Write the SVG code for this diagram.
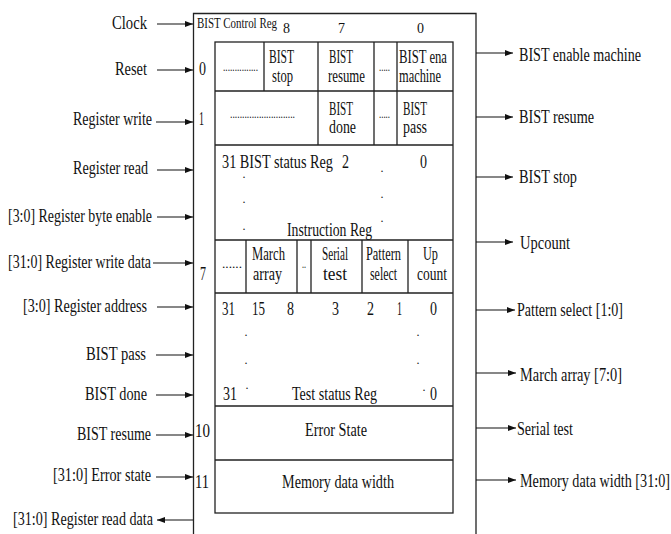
<svg xmlns="http://www.w3.org/2000/svg" width="671" height="534" viewBox="0 0 671 534">
<style>
text{font-family:"Liberation Serif","Times New Roman",serif;fill:#111;}
.lb{font-size:19px;}
.in{font-size:19px;}
.hd{font-size:15px;}
.dt{font-size:12px;}
.box{fill:none;stroke:#222;stroke-width:1.3;}
.ln{stroke:#222;stroke-width:1.3;fill:none;}
.ar{stroke:#111;stroke-width:1.2;fill:none;marker-end:url(#ah);}
</style>
<defs>
<marker id="ah" viewBox="0 0 8 6" refX="8" refY="3" markerWidth="8" markerHeight="6" markerUnits="userSpaceOnUse" orient="auto"><path d="M0,0 L8,3 L0,6 z" fill="#111"/></marker>
</defs>
<rect width="671" height="534" fill="#fff"/>

<g id="bist-block">
<path class="ln" d="M193.5,534 V13.5 H476 V534"/>
<text class="hd" x="197" y="28" textLength="80" lengthAdjust="spacingAndGlyphs">BIST Control Reg</text>
<text class="hd" x="283" y="33" textLength="7" lengthAdjust="spacingAndGlyphs">8</text>
<text class="hd" x="338" y="33" textLength="7" lengthAdjust="spacingAndGlyphs">7</text>
<text class="hd" x="417" y="33" textLength="7" lengthAdjust="spacingAndGlyphs">0</text>
<text class="in" x="199" y="75" textLength="7" lengthAdjust="spacingAndGlyphs">0</text>
<text class="in" x="199" y="125" textLength="5" lengthAdjust="spacingAndGlyphs">1</text>
<text class="in" x="200" y="280" textLength="6" lengthAdjust="spacingAndGlyphs">7</text>
<text class="in" x="195" y="437" textLength="15" lengthAdjust="spacingAndGlyphs">10</text>
<text class="in" x="195" y="488" textLength="14" lengthAdjust="spacingAndGlyphs">11</text>
</g>

<g id="register-file">
<rect class="box" x="215" y="42" width="238" height="471"/>
<path class="ln" d="M215,91 H453 M215,145 H453 M215,240 H453 M215,293 H453 M215,406 H453 M215,460 H453"/>
</g>

<g id="control-row-0">
<path class="ln" d="M264,42 V91 M318,42 V91 M374,42 V91 M397,42 V91"/>
<text class="dt" x="223" y="71" textLength="35" lengthAdjust="spacingAndGlyphs">...............</text>
<text class="in" x="269" y="63" textLength="25" lengthAdjust="spacingAndGlyphs">BIST</text>
<text class="in" x="272" y="82" textLength="21" lengthAdjust="spacingAndGlyphs">stop</text>
<text class="in" x="329" y="63" textLength="24" lengthAdjust="spacingAndGlyphs">BIST</text>
<text class="in" x="328" y="82" textLength="37" lengthAdjust="spacingAndGlyphs">resume</text>
<text class="dt" x="379" y="71" textLength="11" lengthAdjust="spacingAndGlyphs">.....</text>
<text class="in" x="399" y="63" textLength="48" lengthAdjust="spacingAndGlyphs">BIST ena</text>
<text class="in" x="399" y="82" textLength="42" lengthAdjust="spacingAndGlyphs">machine</text>
</g>

<g id="control-row-1">
<path class="ln" d="M318,91 V145 M374,91 V145 M397,91 V145"/>
<text class="dt" x="230" y="118" textLength="65" lengthAdjust="spacingAndGlyphs">...........................</text>
<text class="in" x="329" y="115" textLength="24" lengthAdjust="spacingAndGlyphs">BIST</text>
<text class="in" x="329" y="133" textLength="27" lengthAdjust="spacingAndGlyphs">done</text>
<text class="dt" x="379" y="118" textLength="11" lengthAdjust="spacingAndGlyphs">.....</text>
<text class="in" x="403" y="115" textLength="24" lengthAdjust="spacingAndGlyphs">BIST</text>
<text class="in" x="403" y="133" textLength="24" lengthAdjust="spacingAndGlyphs">pass</text>
</g>

<g id="status-reg">
<text class="in" x="222" y="168" textLength="111" lengthAdjust="spacingAndGlyphs">31 BIST status Reg</text>
<text class="in" x="342" y="168" textLength="7" lengthAdjust="spacingAndGlyphs">2</text>
<text class="in" x="420" y="168" textLength="7" lengthAdjust="spacingAndGlyphs">0</text>
<text class="dt" x="244" y="178" text-anchor="middle">.</text>
<text class="dt" x="244" y="203" text-anchor="middle">.</text>
<text class="dt" x="244" y="230" text-anchor="middle">.</text>
<text class="dt" x="382" y="172" text-anchor="middle">.</text>
<text class="dt" x="382" y="198" text-anchor="middle">.</text>
<text class="dt" x="382" y="222" text-anchor="middle">.</text>
<text class="in" x="287" y="236" textLength="85" lengthAdjust="spacingAndGlyphs">Instruction Reg</text>
</g>

<g id="instruction-row">
<path class="ln" d="M246,240 V293 M297,240 V293 M311,240 V293 M362,240 V293 M408,240 V293"/>
<text class="dt" x="222" y="268" textLength="20" lengthAdjust="spacingAndGlyphs">......</text>
<text class="in" x="252" y="260" textLength="33" lengthAdjust="spacingAndGlyphs">March</text>
<text class="in" x="253" y="280" textLength="29" lengthAdjust="spacingAndGlyphs">array</text>
<text class="dt" x="302" y="268" textLength="4" lengthAdjust="spacingAndGlyphs">..</text>
<text class="in" x="322" y="260" textLength="26" lengthAdjust="spacingAndGlyphs">Serial</text>
<text class="in" x="323" y="280" textLength="24" lengthAdjust="spacingAndGlyphs">test</text>
<text class="in" x="366" y="260" textLength="35" lengthAdjust="spacingAndGlyphs">Pattern</text>
<text class="in" x="370" y="280" textLength="27" lengthAdjust="spacingAndGlyphs">select</text>
<text class="in" x="423" y="260" textLength="15" lengthAdjust="spacingAndGlyphs">Up</text>
<text class="in" x="417" y="280" textLength="30" lengthAdjust="spacingAndGlyphs">count</text>
</g>

<g id="test-status-reg">
<text class="in" x="222" y="315" textLength="13" lengthAdjust="spacingAndGlyphs">31</text>
<text class="in" x="252" y="315" textLength="13" lengthAdjust="spacingAndGlyphs">15</text>
<text class="in" x="287" y="315" textLength="7" lengthAdjust="spacingAndGlyphs">8</text>
<text class="in" x="332" y="315" textLength="7" lengthAdjust="spacingAndGlyphs">3</text>
<text class="in" x="367" y="315" textLength="7" lengthAdjust="spacingAndGlyphs">2</text>
<text class="in" x="397" y="315" textLength="5" lengthAdjust="spacingAndGlyphs">1</text>
<text class="in" x="430" y="315" textLength="7" lengthAdjust="spacingAndGlyphs">0</text>
<text class="dt" x="246" y="336" text-anchor="middle">.</text>
<text class="dt" x="246" y="364" text-anchor="middle">.</text>
<text class="dt" x="247" y="389" text-anchor="middle">.</text>
<text class="dt" x="418" y="336" text-anchor="middle">.</text>
<text class="dt" x="418" y="364" text-anchor="middle">.</text>
<text class="dt" x="424" y="391" text-anchor="middle">.</text>
<text class="in" x="223" y="400" textLength="14" lengthAdjust="spacingAndGlyphs">31</text>
<text class="in" x="292" y="400" textLength="85" lengthAdjust="spacingAndGlyphs">Test status Reg</text>
<text class="in" x="430" y="400" textLength="7" lengthAdjust="spacingAndGlyphs">0</text>
</g>

<g id="error-state">
<text class="in" x="305" y="436" textLength="62" lengthAdjust="spacingAndGlyphs">Error State</text>
</g>

<g id="memory-data-width">
<text class="in" x="282" y="488" textLength="112" lengthAdjust="spacingAndGlyphs">Memory data width</text>
</g>

<g id="inputs">
<text class="lb" x="147" y="29" text-anchor="end" textLength="35" lengthAdjust="spacingAndGlyphs">Clock</text>
<text class="lb" x="147" y="75" text-anchor="end" textLength="32" lengthAdjust="spacingAndGlyphs">Reset</text>
<text class="lb" x="152" y="125" text-anchor="end" textLength="79" lengthAdjust="spacingAndGlyphs">Register write</text>
<text class="lb" x="148" y="174" text-anchor="end" textLength="75" lengthAdjust="spacingAndGlyphs">Register read</text>
<text class="lb" x="152" y="222" text-anchor="end" textLength="144" lengthAdjust="spacingAndGlyphs">[3:0] Register byte enable</text>
<text class="lb" x="151" y="268" text-anchor="end" textLength="143" lengthAdjust="spacingAndGlyphs">[31:0] Register write data</text>
<text class="lb" x="147" y="312" text-anchor="end" textLength="124" lengthAdjust="spacingAndGlyphs">[3:0] Register address</text>
<text class="lb" x="146" y="360" text-anchor="end" textLength="60" lengthAdjust="spacingAndGlyphs">BIST pass</text>
<text class="lb" x="147" y="400" text-anchor="end" textLength="62" lengthAdjust="spacingAndGlyphs">BIST done</text>
<text class="lb" x="151" y="440" text-anchor="end" textLength="74" lengthAdjust="spacingAndGlyphs">BIST resume</text>
<text class="lb" x="151" y="481" text-anchor="end" textLength="98" lengthAdjust="spacingAndGlyphs">[31:0] Error state</text>
<text class="lb" x="153" y="525" text-anchor="end" textLength="140" lengthAdjust="spacingAndGlyphs">[31:0] Register read data</text>
</g>

<g id="outputs">
<text class="lb" x="519" y="61" textLength="122" lengthAdjust="spacingAndGlyphs">BIST enable machine</text>
<text class="lb" x="519" y="123" textLength="75" lengthAdjust="spacingAndGlyphs">BIST resume</text>
<text class="lb" x="519" y="183" textLength="58" lengthAdjust="spacingAndGlyphs">BIST stop</text>
<text class="lb" x="520" y="249" textLength="50" lengthAdjust="spacingAndGlyphs">Upcount</text>
<text class="lb" x="517" y="316" textLength="106" lengthAdjust="spacingAndGlyphs">Pattern select [1:0]</text>
<text class="lb" x="520" y="381" textLength="102" lengthAdjust="spacingAndGlyphs">March array [7:0]</text>
<text class="lb" x="517" y="435" textLength="56" lengthAdjust="spacingAndGlyphs">Serial test</text>
<text class="lb" x="520" y="487" textLength="150" lengthAdjust="spacingAndGlyphs">Memory data width [31:0]</text>
</g>

<g id="connectors">
<line class="ar" x1="157" y1="24" x2="193" y2="24"/>
<line class="ar" x1="157" y1="70" x2="193" y2="70"/>
<line class="ar" x1="156" y1="122" x2="193" y2="122"/>
<line class="ar" x1="157" y1="170" x2="193" y2="170"/>
<line class="ar" x1="157" y1="217" x2="193" y2="217"/>
<line class="ar" x1="153" y1="263" x2="193" y2="263"/>
<line class="ar" x1="157" y1="307" x2="193" y2="307"/>
<line class="ar" x1="156" y1="355" x2="193" y2="355"/>
<line class="ar" x1="156" y1="395" x2="193" y2="395"/>
<line class="ar" x1="156" y1="435" x2="193" y2="435"/>
<line class="ar" x1="156" y1="477" x2="193" y2="477"/>
<line class="ar" x1="193" y1="520" x2="157" y2="520"/>
<line class="ar" x1="476" y1="53" x2="513" y2="53"/>
<line class="ar" x1="476" y1="117" x2="513" y2="117"/>
<line class="ar" x1="476" y1="177" x2="513" y2="177"/>
<line class="ar" x1="476" y1="242" x2="513" y2="242"/>
<line class="ar" x1="476" y1="310" x2="515" y2="310"/>
<line class="ar" x1="476" y1="373" x2="516" y2="373"/>
<line class="ar" x1="476" y1="428" x2="516" y2="428"/>
<line class="ar" x1="476" y1="480" x2="516" y2="480"/>
</g>
</svg>
